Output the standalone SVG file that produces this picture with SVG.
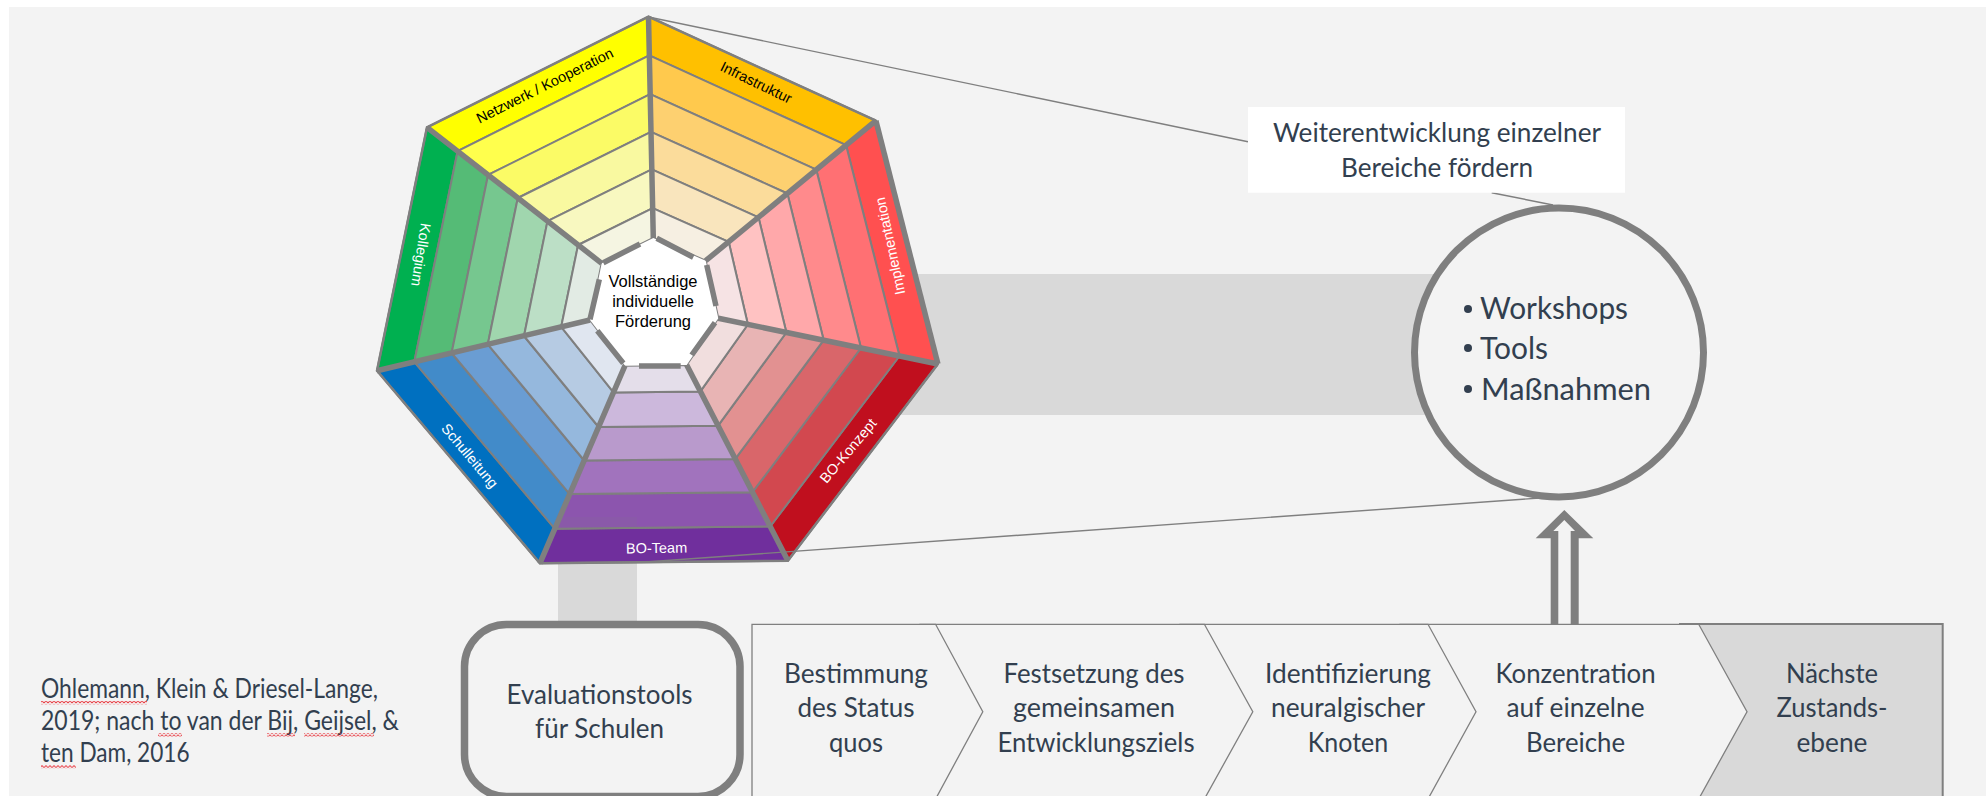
<svg xmlns="http://www.w3.org/2000/svg" width="1986" height="796" viewBox="0 0 1986 796">
<style>
.band{fill:#d9d9d9}
.ring polygon{stroke:#7f7f7f;stroke-width:2;stroke-linejoin:round}
.thick{stroke:#7f7f7f;stroke-width:5.5;fill:none}
.edge{stroke:#7f7f7f;stroke-width:2.5;fill:none}
.thin{stroke:#7f7f7f;stroke-width:1.4;fill:none}
.t{font-family:Lato,"Liberation Sans",sans-serif;fill:#323f4f;text-anchor:middle}
.s23{font-size:26px}
.a{font-family:"Liberation Sans",Arial,sans-serif;text-anchor:middle}
.w{fill:#fff}
.k{fill:#000}
.ch{fill:#f3f3f3;stroke:#7f7f7f;stroke-width:1.3}
</style>
<defs>
<pattern id="sq" width="4" height="3.4" patternUnits="userSpaceOnUse"><path d="M0 2.6L2 .6L4 2.6" fill="none" stroke="#e8333a" stroke-width=".9"/></pattern>
</defs>
<rect width="1986" height="796" fill="#fff"/>
<rect x="9" y="7" width="1977" height="789" fill="#f3f3f3"/>
<rect class="band" x="880" y="274" width="600" height="141"/>
<rect class="band" x="558" y="540" width="79" height="90"/>

<g id="connectors">
<path class="thin" d="M648.5 17L1248 141.7"/>
<path class="thin" d="M1491.7 192.7L1553 205"/>
<path id="arrow" fill-rule="evenodd" fill="#7f7f7f" d="M1564.3 510L1593.3 538.3H1578.7V624.5H1550.7V538.3H1535.7ZM1564.3 520L1553.3 531H1558.3V624.5H1570.7V531H1575Z"/>
</g>

<g id="sector-infrastruktur" class="ring">
<polygon fill="#ffc000" points="648.5,16.7 875.9,120.7 846.1,145.2 649.3,55.4"/>
<polygon fill="#ffc94d" points="649.3,55.4 846.1,145.2 816.3,169.7 650.2,94.2"/>
<polygon fill="#fdd070" points="650.2,94.2 816.3,169.7 787.4,193.5 651,131.8"/>
<polygon fill="#fbdc9b" points="651,131.8 787.4,193.5 758.5,217.3 651.8,169.4"/>
<polygon fill="#f9e5bd" points="651.8,169.4 758.5,217.3 728.7,241.8 652.7,208.1"/>
<polygon fill="#f6efe2" points="652.7,208.1 728.7,241.8 705.7,260.7 653.3,238"/>
</g>
<g id="sector-implementation" class="ring">
<polygon fill="#ff5050" points="875.9,120.7 937.9,364 899.5,356 846.1,145.2"/>
<polygon fill="#ff7073" points="846.1,145.2 899.5,356 861,348 816.3,169.7"/>
<polygon fill="#ff8a8c" points="816.3,169.7 861,348 823.7,340.2 787.4,193.5"/>
<polygon fill="#ffa8aa" points="787.4,193.5 823.7,340.2 786.4,332.5 758.5,217.3"/>
<polygon fill="#ffc2c2" points="758.5,217.3 786.4,332.5 747.9,324.5 728.7,241.8"/>
<polygon fill="#f6e3e4" points="728.7,241.8 747.9,324.5 718.3,318.3 705.7,260.7"/>
</g>
<g id="sector-bo-konzept" class="ring">
<polygon fill="#c00f1e" points="937.9,364 787.9,560.7 770.2,526.5 899.5,356"/>
<polygon fill="#d2484f" points="899.5,356 770.2,526.5 752.5,492.2 861,348"/>
<polygon fill="#d9666a" points="861,348 752.5,492.2 735.3,458.9 823.7,340.2"/>
<polygon fill="#e29191" points="823.7,340.2 735.3,458.9 718.1,425.7 786.4,332.5"/>
<polygon fill="#e8b4b4" points="786.4,332.5 718.1,425.7 700.4,391.4 747.9,324.5"/>
<polygon fill="#f1dede" points="747.9,324.5 700.4,391.4 686.7,365 718.3,318.3"/>
</g>
<g id="sector-bo-team" class="ring">
<polygon fill="#702f9d" points="787.9,560.7 539.9,563.3 554.8,528.7 770.2,526.5"/>
<polygon fill="#8c55ae" points="770.2,526.5 554.8,528.7 569.7,494.1 752.5,492.2"/>
<polygon fill="#a173bd" points="752.5,492.2 569.7,494.1 584.2,460.5 735.3,458.9"/>
<polygon fill="#b99acc" points="735.3,458.9 584.2,460.5 598.6,427 718.1,425.7"/>
<polygon fill="#ccb8dc" points="718.1,425.7 598.6,427 613.5,392.4 700.4,391.4"/>
<polygon fill="#e4deea" points="700.4,391.4 613.5,392.4 625,365.7 686.7,365"/>
<rect x="558" y="517" width="79" height="10.7" fill="#7f7f7f" opacity=".1"/>
</g>
<g id="sector-schulleitung" class="ring">
<polygon fill="#0070c0" points="539.9,563.3 377,370.7 414.3,361.8 554.8,528.7"/>
<polygon fill="#428bc9" points="554.8,528.7 414.3,361.8 451.6,353 569.7,494.1"/>
<polygon fill="#6a9dd3" points="569.7,494.1 451.6,353 487.8,344.3 584.2,460.5"/>
<polygon fill="#95b8dd" points="584.2,460.5 487.8,344.3 524,336 598.6,427"/>
<polygon fill="#b6cbe3" points="598.6,427 524,336 561.2,326.8 613.5,392.4"/>
<polygon fill="#e0e6f0" points="613.5,392.4 561.2,326.8 590,320 625,365.7"/>
</g>
<g id="sector-kollegium" class="ring">
<polygon fill="#00b050" points="377,370.7 427,127.3 457.6,151.1 414.3,361.8"/>
<polygon fill="#55bb76" points="414.3,361.8 457.6,151.1 488.1,174.9 451.6,353"/>
<polygon fill="#76c78f" points="451.6,353 488.1,174.9 517.8,198 487.8,344.3"/>
<polygon fill="#a0d6ae" points="487.8,344.3 517.8,198 547.5,221.1 524,336"/>
<polygon fill="#bcdfc6" points="524,336 547.5,221.1 578.1,245 561.2,326.8"/>
<polygon fill="#e2ebe4" points="561.2,326.8 578.1,245 601.7,263.3 590,320"/>
</g>
<g id="sector-netzwerk" class="ring">
<polygon fill="#ffff00" points="427,127.3 648.5,16.7 649.3,55.4 457.6,151.1"/>
<polygon fill="#ffff4d" points="457.6,151.1 649.3,55.4 650.2,94.2 488.1,174.9"/>
<polygon fill="#fbfb66" points="488.1,174.9 650.2,94.2 651,131.8 517.8,198"/>
<polygon fill="#f9f9a0" points="517.8,198 651,131.8 651.8,169.4 547.5,221.1"/>
<polygon fill="#f8f8c0" points="547.5,221.1 651.8,169.4 652.7,208.1 578.1,245"/>
<polygon fill="#f5f5e2" points="578.1,245 652.7,208.1 653.3,238 601.7,263.3"/>
</g>

<g id="center">
<polygon fill="#fff" points="653.3,238 705.7,260.7 718.3,318.3 686.7,365 625,365.7 590,320 601.7,263.3"/>
<path class="thick" d="M603.3 262.7L640 244M656.7 238.3L693.3 257.3M706.7 265L716 306M715 322.7L691.7 355M680.7 366H639M623.3 363.3L597.3 330.7M590 319.3L599.3 279.3"/>
<text class="a k" font-size="16.5" x="653" y="287">Vollständige</text>
<text class="a k" font-size="16.5" x="653" y="307">individuelle</text>
<text class="a k" font-size="16.5" x="653" y="327">Förderung</text>
</g>

<g id="dividers">
<path class="thick" d="M648.5 16.7L653.3 238M875.9 120.7L705.7 260.7M937.9 364L718.3 318.3M787.9 560.7L686.7 365M539.9 563.3L625 365.7M377 370.7L590 320M427 127.3L601.7 263.3"/>
<path class="thick" d="M875.9 120.7L937.9 364"/>
<path class="edge" d="M937.9 364L787.9 560.7L539.9 563.3L377 370.7L427 127.3L648.5 16.7L875.9 120.7"/>
</g>
<path class="thin" d="M1540 498L649 561.7"/>

<g id="labels">
<text class="a k" font-size="14.5" transform="translate(547 90) rotate(-26.5)">Netzwerk / Kooperation</text>
<text class="a k" font-size="14.5" transform="translate(754 87) rotate(26)">Infrastruktur</text>
<text class="a w" font-size="14.5" transform="translate(895 245) rotate(-102)">Implementation</text>
<text class="a w" font-size="14.5" transform="translate(416 254) rotate(99)">Kollegium</text>
<text class="a w" font-size="14.5" transform="translate(852 454) rotate(-50)">BO-Konzept</text>
<text class="a w" font-size="14.5" transform="translate(466 459) rotate(50)">Schulleitung</text>
<text class="a w" font-size="14.5" transform="translate(656.6 553) rotate(-1)">BO-Team</text>
</g>

<g id="foerdern">
<rect x="1248" y="107" width="377" height="85.7" fill="#fff"/>
<text class="t" font-size="26.5" x="1437" y="141.7" textLength="328" lengthAdjust="spacingAndGlyphs">Weiterentwicklung einzelner</text>
<text class="t" font-size="26.5" x="1437" y="176.7" textLength="192" lengthAdjust="spacingAndGlyphs">Bereiche fördern</text>
</g>

<g id="massnahmen">
<circle cx="1559" cy="352.5" r="144.5" fill="#f3f3f3" stroke="#7f7f7f" stroke-width="7"/>
<circle cx="1468" cy="309" r="4" fill="#323f4f"/>
<circle cx="1468" cy="348" r="4" fill="#323f4f"/>
<circle cx="1468" cy="389" r="4" fill="#323f4f"/>
<text class="t" font-size="31" style="text-anchor:start" x="1480" y="319" textLength="148" lengthAdjust="spacingAndGlyphs">Workshops</text>
<text class="t" font-size="31" style="text-anchor:start" x="1480" y="359" textLength="68" lengthAdjust="spacingAndGlyphs">Tools</text>
<text class="t" font-size="31" style="text-anchor:start" x="1481" y="400" textLength="170" lengthAdjust="spacingAndGlyphs">Maßnahmen</text>
</g>

<g id="citation">
<text class="t s23" style="text-anchor:start" x="41" y="698" textLength="337" lengthAdjust="spacingAndGlyphs">Ohlemann, Klein &amp; Driesel-Lange,</text>
<text class="t s23" style="text-anchor:start" x="41" y="730" textLength="358" lengthAdjust="spacingAndGlyphs">2019; nach to van der Bij, Geijsel, &amp;</text>
<text class="t s23" style="text-anchor:start" x="41" y="762" textLength="148.6" lengthAdjust="spacingAndGlyphs">ten Dam, 2016</text>
<rect x="41" y="701" width="106" height="3.4" fill="url(#sq)"/>
<rect x="158" y="733" width="24" height="3.4" fill="url(#sq)"/>
<rect x="267" y="733" width="28" height="3.4" fill="url(#sq)"/>
<rect x="304" y="733" width="70" height="3.4" fill="url(#sq)"/>
<rect x="41" y="765" width="35" height="3.4" fill="url(#sq)"/>
</g>

<g id="evaluationstools">
<rect x="464.5" y="624.5" width="275.5" height="172" rx="42" fill="#f3f3f3" stroke="#7f7f7f" stroke-width="7.5"/>
<text class="t s23" x="599.6" y="704" textLength="186" lengthAdjust="spacingAndGlyphs">Evaluationstools</text>
<text class="t s23" x="599.6" y="738" textLength="129" lengthAdjust="spacingAndGlyphs">für Schulen</text>
</g>

<g id="step-5">
<path d="M1680 624H1942.7V800H1680Z" fill="#d9d9d9" stroke="#7f7f7f" stroke-width="2"/>
<text class="t s23" x="1832" y="683" textLength="92" lengthAdjust="spacingAndGlyphs">Nächste</text>
<text class="t s23" x="1832" y="717" textLength="111" lengthAdjust="spacingAndGlyphs">Zustands-</text>
<text class="t s23" x="1832" y="751.7" textLength="71" lengthAdjust="spacingAndGlyphs">ebene</text>
</g>
<g id="step-4">
<path class="ch" d="M1400 624.3H1698.7L1747 711.7L1698.7 799H1400Z"/>
<text class="t s23" x="1575.5" y="683" textLength="160" lengthAdjust="spacingAndGlyphs">Konzentration</text>
<text class="t s23" x="1575.5" y="717" textLength="138" lengthAdjust="spacingAndGlyphs">auf einzelne</text>
<text class="t s23" x="1575.5" y="751.7" textLength="99" lengthAdjust="spacingAndGlyphs">Bereiche</text>
</g>
<g id="step-3">
<path class="ch" d="M1180 624.3H1428L1476 711.7L1428 799H1180Z"/>
<text class="t s23" x="1348" y="683" textLength="166" lengthAdjust="spacingAndGlyphs">Identifizierung</text>
<text class="t s23" x="1348" y="717" textLength="154" lengthAdjust="spacingAndGlyphs">neuralgischer</text>
<text class="t s23" x="1348" y="751.7" textLength="80.5" lengthAdjust="spacingAndGlyphs">Knoten</text>
</g>
<g id="step-2">
<path class="ch" d="M920 624.3H1204.4L1252.8 711.7L1204.4 799H920Z"/>
<text class="t s23" x="1094" y="683" textLength="181" lengthAdjust="spacingAndGlyphs">Festsetzung des</text>
<text class="t s23" x="1094" y="717" textLength="162" lengthAdjust="spacingAndGlyphs">gemeinsamen</text>
<text class="t s23" x="1096" y="751.7" textLength="197" lengthAdjust="spacingAndGlyphs">Entwicklungsziels</text>
</g>
<g id="step-1">
<path class="ch" d="M752 799V624.3H935.6L982.8 711.7L935.6 799Z"/>
<text class="t s23" x="856" y="683" textLength="144" lengthAdjust="spacingAndGlyphs">Bestimmung</text>
<text class="t s23" x="856" y="717" textLength="117" lengthAdjust="spacingAndGlyphs">des Status</text>
<text class="t s23" x="856" y="751.7" textLength="54" lengthAdjust="spacingAndGlyphs">quos</text>
</g>
</svg>
